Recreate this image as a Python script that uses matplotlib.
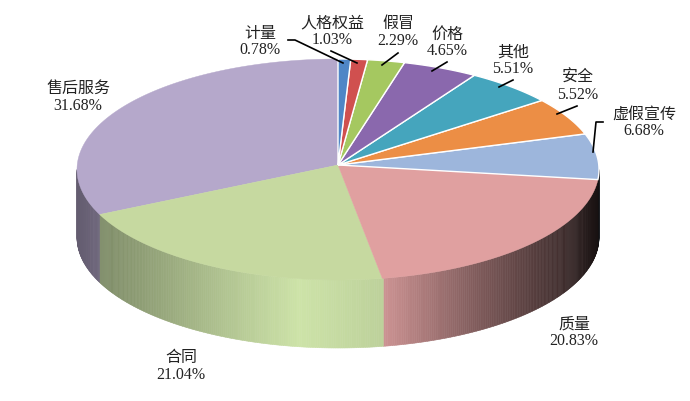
import numpy as np
import matplotlib
matplotlib.use('Agg')
import matplotlib.pyplot as plt

plt.rcParams['font.family'] = ['Liberation Serif', 'Noto Sans CJK SC']

# Data
names = ['计量', '人格权益', '假冒', '价格', '其他', '安全', '虚假宣传', '质量', '合同', '售后服务']
values = [0.78, 1.03, 2.29, 4.65, 5.51, 5.52, 6.68, 20.83, 21.04, 31.68]
colors = ['#4f86c6', '#d0504f', '#a5c860', '#8a68ad', '#45a5bd',
          '#ec8e45', '#9db6dc', '#e0a0a0', '#c6d9a0', '#b5a8cb']
side_colors = ['#4f86c6', '#d0504f', '#a5c860', '#8a68ad', '#45a5bd',
               '#ec8e45', '#9db6dc', '#dfa0a0', '#cde3a8', '#b5a8cb']

# Layout, in picture pixels
cx, cy, rx, ry = 338, 170.5, 261, 110.5
apex_y = 166
depth = 68 / ry
label_pos = [(260, 42), (332, 32), (398, 32.5), (447, 43), (513, 60.5),
             (578, 86.5), (644, 122.5), (574, 333), (181, 366.5), (78, 97.5)]
leaders = [[(288, 41), (295, 41), (343, 64)],
           [(331, 52), (357, 64)],
           [(398, 54), (382, 66)],
           [(447, 63), (432, 72)],
           [(513, 81), (499, 88)],
           [(577, 107), (557, 115)],
           [(603, 123), (596, 123), (593, 153)]]


def px(x, y):
    return (x - cx) / rx, (cy - y) / ry


fig = plt.figure(figsize=(6.9, 4.02), dpi=100)
ax = fig.add_axes([0, 0, 1, 1])
ax.set_xlim(px(0, 0)[0], px(690, 0)[0])
ax.set_ylim(px(0, 402)[1], px(0, 0)[1])
ax.axis('off')

edges = np.concatenate([[0], np.cumsum(values)]) / sum(values) * 360

# side wall, shaded left to right
t = np.linspace(90, 270, 361)
shade_x = [-1, -0.9, -0.4, -0.15, 0.17, 0.5, 0.85, 1]
shade_f = [0.55, 0.62, 0.88, 1.0, 0.92, 0.6, 0.3, 0.1]
for a, b in zip(t[:-1], t[1:]):
    mid = (a + b) / 2
    i = np.searchsorted(edges, mid) - 1
    xs = np.sin(np.radians([a, b]))
    ys = np.cos(np.radians([a, b]))
    f = np.interp(np.sin(np.radians(mid)), shade_x, shade_f)
    c = np.array(matplotlib.colors.to_rgb(side_colors[i])) * f
    ax.fill([xs[0], xs[1], xs[1], xs[0]],
            [ys[0], ys[1], ys[1] - depth, ys[0] - depth],
            color=c, lw=0.4)

# top face
apex = px(cx, apex_y)
for i in [9, 8, 7, 6, 5, 4, 3, 2, 1, 0]:
    a = np.radians(np.linspace(edges[i], edges[i + 1], 120))
    xs = np.concatenate([[apex[0]], np.sin(a)])
    ys = np.concatenate([[apex[1]], np.cos(a)])
    if i < 7:
        ax.fill(xs, ys, facecolor=colors[i], edgecolor='white', lw=1.0, zorder=3)
    else:
        ax.fill(xs, ys, facecolor=colors[i], edgecolor=colors[i], lw=0.3, zorder=2)

# labels and leader lines
for name, val, pos in zip(names, values, label_pos):
    x, y = px(*pos)
    ax.text(x, y, f'{name}\n{val:.2f}%', ha='center', va='center',
            fontsize=11.5, color='#222222', linespacing=1.05, zorder=5)

for line in leaders:
    pts = np.array([px(*p) for p in line])
    ax.plot(pts[:, 0], pts[:, 1], color='black', lw=1.2, zorder=4)

fig.savefig('out.png', dpi=100, facecolor='white')
